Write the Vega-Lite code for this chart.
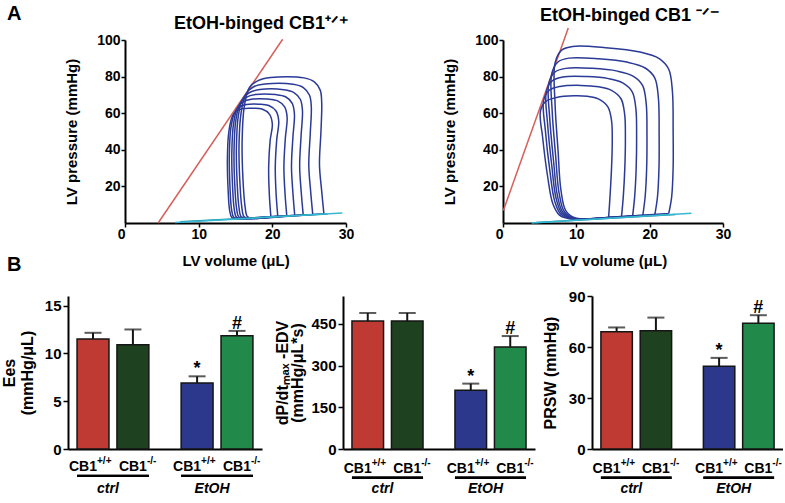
{
"$schema":"https://vega.github.io/schema/vega-lite/v6.json",
"padding":{"left":1,"top":4,"right":0,"bottom":0},
"background":"white",
"spacing":-13,
"resolve":{"scale":{"color":"independent","xOffset":"independent"}},
"config":{
 "font":"Liberation Sans",
 "view":{"stroke":null},
 "axis":{"labelFont":"Liberation Sans","labelFontWeight":"bold","labelColor":"#000","titleFont":"Liberation Sans","titleFontWeight":"bold","titleColor":"#000","domainColor":"#000","tickColor":"#000","domainWidth":2,"tickWidth":1.5,"grid":false},
 "title":{"font":"Liberation Sans","fontWeight":"bold","color":"#000"}
},
"datasets":{
 "lRed":[{"V":4.5,"P":0},{"V":21.4,"P":100.4}],
 "rRed":[{"V":0.05,"P":6.8},{"V":8.9,"P":106.6}],
 "lEdpA":[{"V":6.8,"P":0.3},{"V":29.5,"P":5.4}],
 "lEdpB":[{"V":7.5,"P":0.7},{"V":27.5,"P":4.9}],
 "rEdpA":[{"V":3.9,"P":0.0},{"V":25.7,"P":5.3}],
 "rEdpB":[{"V":4.5,"P":0.3},{"V":23.5,"P":4.7}],
 "lLoops":[
{"k":0,"i":1,"V":19.8,"P":3.6},{"k":0,"i":2,"V":19.6,"P":15},{"k":0,"i":3,"V":19.5,"P":30},{"k":0,"i":4,"V":19.7,"P":45},{"k":0,"i":5,"V":20.0,"P":54},{"k":0,"i":6,"V":19.6,"P":59.5},{"k":0,"i":7,"V":18.6,"P":62.3},{"k":0,"i":8,"V":17.3,"P":62.7},{"k":0,"i":9,"V":16.0,"P":62.5},{"k":0,"i":10,"V":15.2,"P":61.3},{"k":0,"i":11,"V":14.6,"P":58.5},{"k":0,"i":12,"V":14.1,"P":50},{"k":0,"i":13,"V":13.9,"P":35},{"k":0,"i":14,"V":14.0,"P":18},{"k":0,"i":15,"V":14.2,"P":7},{"k":0,"i":16,"V":14.5,"P":3.0},{"k":0,"i":17,"V":15.3,"P":2.2},{"k":0,"i":18,"V":17.5,"P":2.8},{"k":0,"i":19,"V":19.8,"P":3.6},
{"k":1,"i":1,"V":20.74,"P":3.78},{"k":1,"i":2,"V":20.52,"P":15.3},{"k":1,"i":3,"V":20.4,"P":30.3},{"k":1,"i":4,"V":20.6,"P":45.7},{"k":1,"i":5,"V":20.87,"P":55.6},{"k":1,"i":6,"V":20.5,"P":61.2},{"k":1,"i":7,"V":19.52,"P":64.2},{"k":1,"i":8,"V":18.21,"P":64.9},{"k":1,"i":9,"V":16.49,"P":64.7},{"k":1,"i":10,"V":15.56,"P":63.4},{"k":1,"i":11,"V":14.9,"P":60.5},{"k":1,"i":12,"V":14.37,"P":51.8},{"k":1,"i":13,"V":14.16,"P":36.3},{"k":1,"i":14,"V":14.26,"P":18.9},{"k":1,"i":15,"V":14.47,"P":7.3},{"k":1,"i":16,"V":14.77,"P":3.08},{"k":1,"i":17,"V":15.57,"P":2.25},{"k":1,"i":18,"V":18.09,"P":2.92},{"k":1,"i":19,"V":20.74,"P":3.78},
{"k":2,"i":1,"V":21.96,"P":4.02},{"k":2,"i":2,"V":21.73,"P":15.7},{"k":2,"i":3,"V":21.57,"P":30.6},{"k":2,"i":4,"V":21.77,"P":46.5},{"k":2,"i":5,"V":22.01,"P":57.6},{"k":2,"i":6,"V":21.67,"P":63.4},{"k":2,"i":7,"V":20.73,"P":66.7},{"k":2,"i":8,"V":19.4,"P":67.7},{"k":2,"i":9,"V":17.14,"P":67.6},{"k":2,"i":10,"V":16.04,"P":66.2},{"k":2,"i":11,"V":15.29,"P":63.2},{"k":2,"i":12,"V":14.73,"P":54.2},{"k":2,"i":13,"V":14.5,"P":38},{"k":2,"i":14,"V":14.6,"P":20.1},{"k":2,"i":15,"V":14.83,"P":7.6},{"k":2,"i":16,"V":15.13,"P":3.18},{"k":2,"i":17,"V":15.93,"P":2.32},{"k":2,"i":18,"V":18.85,"P":3.07},{"k":2,"i":19,"V":21.96,"P":4.02},
{"k":3,"i":1,"V":23.04,"P":4.23},{"k":3,"i":2,"V":22.8,"P":16.1},{"k":3,"i":3,"V":22.6,"P":30.9},{"k":3,"i":4,"V":22.8,"P":47.3},{"k":3,"i":5,"V":23.0,"P":59.4},{"k":3,"i":6,"V":22.7,"P":65.4},{"k":3,"i":7,"V":21.8,"P":69.0},{"k":3,"i":8,"V":20.45,"P":70.2},{"k":3,"i":9,"V":17.71,"P":70.2},{"k":3,"i":10,"V":16.46,"P":68.7},{"k":3,"i":11,"V":15.64,"P":65.5},{"k":3,"i":12,"V":15.05,"P":56.3},{"k":3,"i":13,"V":14.8,"P":39.5},{"k":3,"i":14,"V":14.9,"P":21.2},{"k":3,"i":15,"V":15.15,"P":7.9},{"k":3,"i":16,"V":15.45,"P":3.27},{"k":3,"i":17,"V":16.25,"P":2.38},{"k":3,"i":18,"V":19.53,"P":3.2},{"k":3,"i":19,"V":23.04,"P":4.23},
{"k":4,"i":1,"V":24.19,"P":4.45},{"k":4,"i":2,"V":23.93,"P":16.5},{"k":4,"i":3,"V":23.71,"P":31.2},{"k":4,"i":4,"V":23.91,"P":48.1},{"k":4,"i":5,"V":24.09,"P":61.3},{"k":4,"i":6,"V":23.81,"P":67.5},{"k":4,"i":7,"V":22.93,"P":71.3},{"k":4,"i":8,"V":21.57,"P":72.8},{"k":4,"i":9,"V":18.32,"P":72.9},{"k":4,"i":10,"V":16.91,"P":71.3},{"k":4,"i":11,"V":16.0,"P":68.0},{"k":4,"i":12,"V":15.38,"P":58.5},{"k":4,"i":13,"V":15.12,"P":41.1},{"k":4,"i":14,"V":15.22,"P":22.3},{"k":4,"i":15,"V":15.48,"P":8.2},{"k":4,"i":16,"V":15.78,"P":3.37},{"k":4,"i":17,"V":16.58,"P":2.44},{"k":4,"i":18,"V":20.25,"P":3.35},{"k":4,"i":19,"V":24.19,"P":4.45},
{"k":5,"i":1,"V":25.49,"P":4.7},{"k":5,"i":2,"V":25.21,"P":16.9},{"k":5,"i":3,"V":24.95,"P":31.6},{"k":5,"i":4,"V":25.15,"P":49.0},{"k":5,"i":5,"V":25.29,"P":63.5},{"k":5,"i":6,"V":25.05,"P":69.8},{"k":5,"i":7,"V":24.21,"P":74.0},{"k":5,"i":8,"V":22.83,"P":75.8},{"k":5,"i":9,"V":19.0,"P":75.9},{"k":5,"i":10,"V":17.41,"P":74.3},{"k":5,"i":11,"V":16.42,"P":70.6},{"k":5,"i":12,"V":15.76,"P":60.3},{"k":5,"i":13,"V":15.48,"P":42.9},{"k":5,"i":14,"V":15.58,"P":23.5},{"k":5,"i":15,"V":15.86,"P":8.6},{"k":5,"i":16,"V":16.16,"P":3.47},{"k":5,"i":17,"V":16.96,"P":2.52},{"k":5,"i":18,"V":21.06,"P":3.51},{"k":5,"i":19,"V":25.49,"P":4.7},
{"k":6,"i":1,"V":27.0,"P":5.0},{"k":6,"i":2,"V":26.7,"P":17.4},{"k":6,"i":3,"V":26.4,"P":32},{"k":6,"i":4,"V":26.6,"P":50},{"k":6,"i":5,"V":26.7,"P":66},{"k":6,"i":6,"V":26.5,"P":72.6},{"k":6,"i":7,"V":25.7,"P":77.1},{"k":6,"i":8,"V":24.3,"P":79.3},{"k":6,"i":9,"V":19.8,"P":79.5},{"k":6,"i":10,"V":18.0,"P":77.7},{"k":6,"i":11,"V":16.9,"P":74.1},{"k":6,"i":12,"V":16.2,"P":64},{"k":6,"i":13,"V":15.9,"P":45},{"k":6,"i":14,"V":16.0,"P":25},{"k":6,"i":15,"V":16.3,"P":9},{"k":6,"i":16,"V":16.6,"P":3.6},{"k":6,"i":17,"V":17.4,"P":2.6},{"k":6,"i":18,"V":22.0,"P":3.7},{"k":6,"i":19,"V":27.0,"P":5.0}
 ],
 "rLoops":[
{"k":0,"i":1,"V":14.4,"P":3.0},{"k":0,"i":2,"V":14.6,"P":15},{"k":0,"i":3,"V":14.8,"P":30},{"k":0,"i":4,"V":14.9,"P":45},{"k":0,"i":5,"V":14.8,"P":56},{"k":0,"i":6,"V":14.3,"P":63.5},{"k":0,"i":7,"V":13.0,"P":67.8},{"k":0,"i":8,"V":11.5,"P":69.2},{"k":0,"i":9,"V":9.7,"P":69.5},{"k":0,"i":10,"V":7.3,"P":68.6},{"k":0,"i":11,"V":5.8,"P":66.3},{"k":0,"i":12,"V":5.1,"P":61},{"k":0,"i":13,"V":5.4,"P":47},{"k":0,"i":14,"V":6.1,"P":25},{"k":0,"i":15,"V":6.8,"P":10.5},{"k":0,"i":16,"V":7.7,"P":4.3},{"k":0,"i":17,"V":9.5,"P":2.0},{"k":0,"i":18,"V":12.0,"P":2.3},{"k":0,"i":19,"V":14.4,"P":3.0},
{"k":1,"i":1,"V":16.16,"P":3.47},{"k":1,"i":2,"V":16.41,"P":14.85},{"k":1,"i":3,"V":16.61,"P":30},{"k":1,"i":4,"V":16.69,"P":46.1},{"k":1,"i":5,"V":16.59,"P":59.4},{"k":1,"i":6,"V":16.09,"P":67.9},{"k":1,"i":7,"V":14.79,"P":72.5},{"k":1,"i":8,"V":13.05,"P":74.4},{"k":1,"i":9,"V":10.63,"P":75.2},{"k":1,"i":10,"V":7.77,"P":74.6},{"k":1,"i":11,"V":6.27,"P":72.4},{"k":1,"i":12,"V":5.53,"P":66.7},{"k":1,"i":13,"V":5.77,"P":50.9},{"k":1,"i":14,"V":6.4,"P":28.2},{"k":1,"i":15,"V":7.04,"P":12.1},{"k":1,"i":16,"V":7.89,"P":4.77},{"k":1,"i":17,"V":9.61,"P":2.13},{"k":1,"i":18,"V":12.86,"P":2.56},{"k":1,"i":19,"V":16.16,"P":3.47},
{"k":2,"i":1,"V":17.68,"P":3.88},{"k":2,"i":2,"V":17.96,"P":14.7},{"k":2,"i":3,"V":18.16,"P":30},{"k":2,"i":4,"V":18.22,"P":47},{"k":2,"i":5,"V":18.12,"P":62.4},{"k":2,"i":6,"V":17.62,"P":71.7},{"k":2,"i":7,"V":16.32,"P":76.6},{"k":2,"i":8,"V":14.38,"P":78.9},{"k":2,"i":9,"V":11.42,"P":80.0},{"k":2,"i":10,"V":8.18,"P":79.8},{"k":2,"i":11,"V":6.68,"P":77.6},{"k":2,"i":12,"V":5.9,"P":71.6},{"k":2,"i":13,"V":6.08,"P":54.2},{"k":2,"i":14,"V":6.66,"P":31},{"k":2,"i":15,"V":7.24,"P":13.5},{"k":2,"i":16,"V":8.06,"P":5.18},{"k":2,"i":17,"V":9.7,"P":2.24},{"k":2,"i":18,"V":13.6,"P":2.78},{"k":2,"i":19,"V":17.68,"P":3.88},
{"k":3,"i":1,"V":19.07,"P":4.25},{"k":3,"i":2,"V":19.39,"P":14.6},{"k":3,"i":3,"V":19.59,"P":30},{"k":3,"i":4,"V":19.63,"P":47.9},{"k":3,"i":5,"V":19.53,"P":65.1},{"k":3,"i":6,"V":19.03,"P":75.2},{"k":3,"i":7,"V":17.73,"P":80.3},{"k":3,"i":8,"V":15.6,"P":83.0},{"k":3,"i":9,"V":12.15,"P":84.5},{"k":3,"i":10,"V":8.55,"P":84.5},{"k":3,"i":11,"V":7.05,"P":82.4},{"k":3,"i":12,"V":6.24,"P":76.1},{"k":3,"i":13,"V":6.37,"P":57.3},{"k":3,"i":14,"V":6.9,"P":33.6},{"k":3,"i":15,"V":7.43,"P":14.8},{"k":3,"i":16,"V":8.21,"P":5.55},{"k":3,"i":17,"V":9.79,"P":2.34},{"k":3,"i":18,"V":14.28,"P":2.98},{"k":3,"i":19,"V":19.07,"P":4.25},
{"k":4,"i":1,"V":20.71,"P":4.69},{"k":4,"i":2,"V":21.07,"P":14.5},{"k":4,"i":3,"V":21.27,"P":30},{"k":4,"i":4,"V":21.29,"P":48.9},{"k":4,"i":5,"V":21.19,"P":68.3},{"k":4,"i":6,"V":20.69,"P":79.3},{"k":4,"i":7,"V":19.39,"P":84.7},{"k":4,"i":8,"V":17.04,"P":87.8},{"k":4,"i":9,"V":13.01,"P":89.75},{"k":4,"i":10,"V":8.99,"P":90.1},{"k":4,"i":11,"V":7.49,"P":88.0},{"k":4,"i":12,"V":6.64,"P":81.4},{"k":4,"i":13,"V":6.71,"P":60.9},{"k":4,"i":14,"V":7.18,"P":36.6},{"k":4,"i":15,"V":7.65,"P":16.3},{"k":4,"i":16,"V":8.39,"P":5.99},{"k":4,"i":17,"V":9.89,"P":2.46},{"k":4,"i":18,"V":15.08,"P":3.22},{"k":4,"i":19,"V":20.71,"P":4.69},
{"k":5,"i":1,"V":22.6,"P":5.2},{"k":5,"i":2,"V":23.0,"P":14.3},{"k":5,"i":3,"V":23.2,"P":30},{"k":5,"i":4,"V":23.2,"P":50},{"k":5,"i":5,"V":23.1,"P":72},{"k":5,"i":6,"V":22.6,"P":84},{"k":5,"i":7,"V":21.3,"P":89.8},{"k":5,"i":8,"V":18.7,"P":93.4},{"k":5,"i":9,"V":14.0,"P":95.8},{"k":5,"i":10,"V":9.5,"P":96.5},{"k":5,"i":11,"V":8.0,"P":94.5},{"k":5,"i":12,"V":7.1,"P":87.5},{"k":5,"i":13,"V":7.1,"P":65},{"k":5,"i":14,"V":7.5,"P":40},{"k":5,"i":15,"V":7.9,"P":18},{"k":5,"i":16,"V":8.6,"P":6.5},{"k":5,"i":17,"V":10.0,"P":2.6},{"k":5,"i":18,"V":16.0,"P":3.5},{"k":5,"i":19,"V":22.6,"P":5.2}
 ],
 "ees":[
  {"group":"ctrl","geno":"+/+","cond":"ctrl +/+","mean":11.5,"hi":12.15,"sig":""},
  {"group":"ctrl","geno":"-/-","cond":"ctrl -/-","mean":10.9,"hi":12.5,"sig":""},
  {"group":"EtOH","geno":"+/+","cond":"EtOH +/+","mean":6.9,"hi":7.6,"sig":"*"},
  {"group":"EtOH","geno":"-/-","cond":"EtOH -/-","mean":11.85,"hi":12.35,"sig":"#"}
 ],
 "dpdt":[
  {"group":"ctrl","geno":"+/+","cond":"ctrl +/+","mean":460,"hi":489,"sig":""},
  {"group":"ctrl","geno":"-/-","cond":"ctrl -/-","mean":460,"hi":489,"sig":""},
  {"group":"EtOH","geno":"+/+","cond":"EtOH +/+","mean":211,"hi":235,"sig":"*"},
  {"group":"EtOH","geno":"-/-","cond":"EtOH -/-","mean":367,"hi":406,"sig":"#"}
 ],
 "prsw":[
  {"group":"ctrl","geno":"+/+","cond":"ctrl +/+","mean":69,"hi":71.5,"sig":""},
  {"group":"ctrl","geno":"-/-","cond":"ctrl -/-","mean":69.5,"hi":77.3,"sig":""},
  {"group":"EtOH","geno":"+/+","cond":"EtOH +/+","mean":48.7,"hi":53.6,"sig":"*"},
  {"group":"EtOH","geno":"-/-","cond":"EtOH -/-","mean":74,"hi":78.7,"sig":"#"}
 ]
},
"vconcat":[
 {"bounds":"flush","spacing":0,
  "hconcat":[
   {"width":57,"height":183,"data":{"values":[]},"mark":"point",
    "title":{"text":"A","anchor":"start","frame":"group","dx":-61,"fontSize":20,"offset":0,"baseline":"alphabetic"}},
   {"bounds":"flush","spacing":157,
    "hconcat":[
     {"width":221,"height":183,
      "title":{"text":"EtOH-binged CB1⁺ᐟ⁺","anchor":"middle","frame":"group","dx":26,"fontSize":18,"offset":-14,"baseline":"alphabetic"},
      "encoding":{
       "x":{"field":"V","type":"quantitative","scale":{"domain":[0,30]},"axis":{"title":"LV volume (μL)","values":[0,10,20,30],"labelAlign":{"condition":{"test":"datum.value === 0","value":"right"},"value":"center"},"tickSize":4,"labelPadding":0,"labelFontSize":14,"titleFontSize":15,"titlePadding":12}},
       "y":{"field":"P","type":"quantitative","scale":{"domain":[0,100]},"axis":{"title":"LV pressure (mmHg)","values":[20,40,60,80,100],"tickSize":4,"labelPadding":1,"labelFontSize":14,"titleFontSize":15,"titlePadding":17}}
      },
      "layer":[
       {"data":{"name":"lRed"},"mark":{"type":"line","color":"#D5605A","strokeWidth":1.5}},
       {"data":{"name":"lLoops"},"mark":{"type":"line","interpolate":"catmull-rom","color":"#2B3A96","strokeWidth":1.5},"encoding":{"detail":{"field":"k"},"order":{"field":"i"}}},
       {"data":{"name":"lEdpB"},"mark":{"type":"line","color":"#1A8A9C","strokeWidth":1.5}},
       {"data":{"name":"lEdpA"},"mark":{"type":"line","color":"#35B8D3","strokeWidth":1.5}}
      ]},
     {"width":220,"height":183,
      "title":{"text":"EtOH-binged CB1 ⁻ᐟ⁻","anchor":"middle","frame":"group","dx":17,"fontSize":18,"offset":-14,"baseline":"alphabetic"},
      "encoding":{
       "x":{"field":"V","type":"quantitative","scale":{"domain":[0,30]},"axis":{"title":"LV volume (μL)","values":[0,10,20,30],"labelAlign":{"condition":{"test":"datum.value === 0","value":"right"},"value":"center"},"tickSize":4,"labelPadding":0,"labelFontSize":14,"titleFontSize":15,"titlePadding":12}},
       "y":{"field":"P","type":"quantitative","scale":{"domain":[0,100]},"axis":{"title":"LV pressure (mmHg)","values":[20,40,60,80,100],"tickSize":4,"labelPadding":1,"labelFontSize":14,"titleFontSize":15,"titlePadding":17}}
      },
      "layer":[
       {"data":{"name":"rRed"},"mark":{"type":"line","color":"#D5605A","strokeWidth":1.5}},
       {"data":{"name":"rLoops"},"mark":{"type":"line","interpolate":"catmull-rom","color":"#2B3A96","strokeWidth":1.5},"encoding":{"detail":{"field":"k"},"order":{"field":"i"}}},
       {"data":{"name":"rEdpB"},"mark":{"type":"line","color":"#1A8A9C","strokeWidth":1.5}},
       {"data":{"name":"rEdpA"},"mark":{"type":"line","color":"#35B8D3","strokeWidth":1.5}}
      ]}
    ]}
  ]},
 {"bounds":"flush","spacing":81,"resolve":{"scale":{"color":"independent","xOffset":"independent"}},
  "hconcat":[
   {"width":194,"height":153,"data":{"name":"ees"},
    "title":{"text":"B","anchor":"start","frame":"group","dx":-61,"fontSize":20,"offset":5,"baseline":"alphabetic"},
    "encoding":{"x":{"field":"group","type":"nominal","sort":["ctrl","EtOH"],"scale":{"paddingInner":0.31,"paddingOuter":0.087},"axis":{"title":null,"ticks":false,"tickSize":0,"labelAngle":0,"labelFontStyle":"italic","labelFontSize":14,"labelPadding":32,"labelOffset":-5}}},
    "layer":[
     {"mark":{"type":"bar","stroke":"#151515","strokeWidth":1.5},"encoding":{"xOffset":{"field":"geno","type":"nominal","sort":["+/+","-/-"],"scale":{"paddingInner":0.2,"paddingOuter":0}},"y":{"field":"mean","type":"quantitative","scale":{"domain":[0,15]},"axis":{"title":["Ees","(mmHg/μL)"],"values":[0,5,10,15],"tickSize":5,"labelPadding":2,"labelFontSize":15,"titleFontSize":16,"titleLineHeight":18,"titlePadding":9}},"color":{"field":"cond","type":"nominal","scale":{"domain":["ctrl +/+","ctrl -/-","EtOH +/+","EtOH -/-"],"range":["#BE3A32","#1E4220","#2C388C","#21894A"]},"legend":null}}},
     {"mark":{"type":"rule","strokeWidth":2,"color":"#151515"},"encoding":{"xOffset":{"field":"geno","type":"nominal","sort":["+/+","-/-"]},"y":{"field":"mean","type":"quantitative"},"y2":{"field":"hi"}}},
     {"mark":{"type":"tick","orient":"horizontal","size":17,"thickness":2,"color":"#151515"},"encoding":{"xOffset":{"field":"geno","type":"nominal","sort":["+/+","-/-"]},"y":{"field":"hi","type":"quantitative"}}},
     {"mark":{"type":"text","fontSize":18,"fontWeight":"bold","dy":-2,"baseline":"alphabetic","color":"#000"},"encoding":{"xOffset":{"field":"geno","type":"nominal","sort":["+/+","-/-"]},"y":{"field":"hi","type":"quantitative"},"text":{"field":"sig"}}},
     {"mark":{"type":"text","fontSize":14,"fontWeight":"bold","align":"right","dx":{"expr":"datum.geno === '+/+' ? 4 : 14"},"baseline":"alphabetic","color":"#000"},"encoding":{"xOffset":{"field":"geno","type":"nominal","sort":["+/+","-/-"]},"y":{"datum":-2.35},"text":{"value":"CB1"}}},
     {"mark":{"type":"text","fontSize":10,"fontWeight":"bold","align":"left","dx":{"expr":"datum.geno === '+/+' ? 4 : 14"},"dy":-7,"baseline":"alphabetic","color":"#000"},"encoding":{"xOffset":{"field":"geno","type":"nominal","sort":["+/+","-/-"]},"y":{"datum":-2.35},"text":{"field":"geno"}}},
     {"mark":{"type":"bar","color":"#000"},"encoding":{"y":{"datum":-2.7},"y2":{"datum":-2.94}}}
    ]},
   {"bounds":"flush","spacing":57,"resolve":{"scale":{"color":"independent","xOffset":"independent"}},
    "hconcat":[
     {"width":192,"height":153,"data":{"name":"dpdt"},
      "encoding":{"x":{"field":"group","type":"nominal","sort":["ctrl","EtOH"],"scale":{"paddingInner":0.31,"paddingOuter":0.087},"axis":{"title":null,"ticks":false,"tickSize":0,"labelAngle":0,"labelFontStyle":"italic","labelFontSize":14,"labelPadding":32,"labelOffset":-5}}},
      "layer":[
       {"mark":{"type":"bar","stroke":"#151515","strokeWidth":1.5},"encoding":{"xOffset":{"field":"geno","type":"nominal","sort":["+/+","-/-"],"scale":{"paddingInner":0.2,"paddingOuter":0}},"y":{"field":"mean","type":"quantitative","scale":{"domain":[0,550]},"axis":{"title":["dP/dtₘₐₓ -EDV","(mmHg/μL*s)"],"values":[0,150,300,450],"tickSize":5,"labelPadding":2,"labelFontSize":15,"titleFontSize":16,"titleLineHeight":15,"titlePadding":5}},"color":{"field":"cond","type":"nominal","scale":{"domain":["ctrl +/+","ctrl -/-","EtOH +/+","EtOH -/-"],"range":["#BE3A32","#1E4220","#2C388C","#21894A"]},"legend":null}}},
       {"mark":{"type":"rule","strokeWidth":2,"color":"#151515"},"encoding":{"xOffset":{"field":"geno","type":"nominal","sort":["+/+","-/-"]},"y":{"field":"mean","type":"quantitative"},"y2":{"field":"hi"}}},
       {"mark":{"type":"tick","orient":"horizontal","size":17,"thickness":2,"color":"#151515"},"encoding":{"xOffset":{"field":"geno","type":"nominal","sort":["+/+","-/-"]},"y":{"field":"hi","type":"quantitative"}}},
       {"mark":{"type":"text","fontSize":18,"fontWeight":"bold","dy":-2,"baseline":"alphabetic","color":"#000"},"encoding":{"xOffset":{"field":"geno","type":"nominal","sort":["+/+","-/-"]},"y":{"field":"hi","type":"quantitative"},"text":{"field":"sig"}}},
       {"mark":{"type":"text","fontSize":14,"fontWeight":"bold","align":"right","dx":{"expr":"datum.geno === '+/+' ? 4 : 14"},"baseline":"alphabetic","color":"#000"},"encoding":{"xOffset":{"field":"geno","type":"nominal","sort":["+/+","-/-"]},"y":{"datum":-86},"text":{"value":"CB1"}}},
       {"mark":{"type":"text","fontSize":10,"fontWeight":"bold","align":"left","dx":{"expr":"datum.geno === '+/+' ? 4 : 14"},"dy":-7,"baseline":"alphabetic","color":"#000"},"encoding":{"xOffset":{"field":"geno","type":"nominal","sort":["+/+","-/-"]},"y":{"datum":-86},"text":{"field":"geno"}}},
       {"mark":{"type":"bar","color":"#000"},"encoding":{"y":{"datum":-99},"y2":{"datum":-108}}}
      ]},
     {"width":191,"height":153,"data":{"name":"prsw"},
      "encoding":{"x":{"field":"group","type":"nominal","sort":["ctrl","EtOH"],"scale":{"paddingInner":0.31,"paddingOuter":0.087},"axis":{"title":null,"ticks":false,"tickSize":0,"labelAngle":0,"labelFontStyle":"italic","labelFontSize":14,"labelPadding":32,"labelOffset":-5}}},
      "layer":[
       {"mark":{"type":"bar","stroke":"#151515","strokeWidth":1.5},"encoding":{"xOffset":{"field":"geno","type":"nominal","sort":["+/+","-/-"],"scale":{"paddingInner":0.2,"paddingOuter":0}},"y":{"field":"mean","type":"quantitative","scale":{"domain":[0,90]},"axis":{"title":"PRSW (mmHg)","values":[0,30,60,90],"tickSize":5,"labelPadding":2,"labelFontSize":15,"titleFontSize":16,"titlePadding":10}},"color":{"field":"cond","type":"nominal","scale":{"domain":["ctrl +/+","ctrl -/-","EtOH +/+","EtOH -/-"],"range":["#BE3A32","#1E4220","#2C388C","#21894A"]},"legend":null}}},
       {"mark":{"type":"rule","strokeWidth":2,"color":"#151515"},"encoding":{"xOffset":{"field":"geno","type":"nominal","sort":["+/+","-/-"]},"y":{"field":"mean","type":"quantitative"},"y2":{"field":"hi"}}},
       {"mark":{"type":"tick","orient":"horizontal","size":17,"thickness":2,"color":"#151515"},"encoding":{"xOffset":{"field":"geno","type":"nominal","sort":["+/+","-/-"]},"y":{"field":"hi","type":"quantitative"}}},
       {"mark":{"type":"text","fontSize":18,"fontWeight":"bold","dy":-2,"baseline":"alphabetic","color":"#000"},"encoding":{"xOffset":{"field":"geno","type":"nominal","sort":["+/+","-/-"]},"y":{"field":"hi","type":"quantitative"},"text":{"field":"sig"}}},
       {"mark":{"type":"text","fontSize":14,"fontWeight":"bold","align":"right","dx":{"expr":"datum.geno === '+/+' ? 4 : 14"},"baseline":"alphabetic","color":"#000"},"encoding":{"xOffset":{"field":"geno","type":"nominal","sort":["+/+","-/-"]},"y":{"datum":-14.1},"text":{"value":"CB1"}}},
       {"mark":{"type":"text","fontSize":10,"fontWeight":"bold","align":"left","dx":{"expr":"datum.geno === '+/+' ? 4 : 14"},"dy":-7,"baseline":"alphabetic","color":"#000"},"encoding":{"xOffset":{"field":"geno","type":"nominal","sort":["+/+","-/-"]},"y":{"datum":-14.1},"text":{"field":"geno"}}},
       {"mark":{"type":"bar","color":"#000"},"encoding":{"y":{"datum":-16.2},"y2":{"datum":-17.6}}}
      ]}
    ]}
  ]}
]
}
